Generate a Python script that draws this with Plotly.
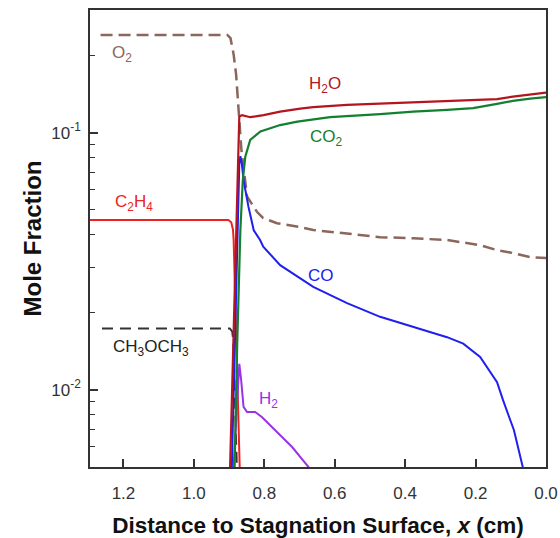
import plotly.graph_objects as go

# ---------------- data ----------------
O2_x = [1.265, 0.905, 0.896, 0.887, 0.880, 0.876, 0.873, 0.865, 0.858, 0.849, 0.821, 0.803,
        0.764, 0.746, 0.698, 0.661, 0.565, 0.471, 0.377, 0.281, 0.187, 0.139, 0.094, 0.045, 0.0]
O2_y = [0.240, 0.240, 0.233, 0.201, 0.168, 0.140, 0.117, 0.0857, 0.0716, 0.0564, 0.0492, 0.0465,
        0.0444, 0.0440, 0.0429, 0.0418, 0.0405, 0.0392, 0.0388, 0.0382, 0.0365, 0.0349, 0.0340, 0.0328, 0.0325]

CH3OCH3_x = [1.261, 0.898, 0.891, 0.888, 0.878, 0.877]
CH3OCH3_y = [0.0173, 0.0173, 0.0168, 0.0155, 0.005, 0.0045]

C2H4_x = [1.30, 0.902, 0.894, 0.889, 0.887, 0.870, 0.869]
C2H4_y = [0.0457, 0.0457, 0.0448, 0.0420, 0.0380, 0.0050, 0.0045]

H2_x = [0.889, 0.875, 0.871, 0.866, 0.859, 0.849, 0.826, 0.807, 0.769, 0.721, 0.674, 0.670]
H2_y = [0.0045, 0.0110, 0.0126, 0.0110, 0.00857, 0.00818, 0.00818, 0.00783, 0.00695, 0.00598, 0.00499, 0.0048]

CO_x = [0.893, 0.877, 0.871, 0.868, 0.864, 0.859, 0.845, 0.830, 0.812, 0.803, 0.755, 0.661,
        0.565, 0.471, 0.377, 0.281, 0.235, 0.187, 0.139, 0.122, 0.091, 0.065, 0.058]
CO_y = [0.0045, 0.040, 0.075, 0.081, 0.076, 0.0654, 0.0515, 0.0417, 0.0382, 0.036, 0.0305, 0.0251,
        0.0217, 0.0192, 0.0175, 0.0160, 0.0151, 0.0134, 0.0107, 0.0091, 0.00695, 0.00504, 0.0045]

CO2_x = [0.885, 0.877, 0.868, 0.861, 0.854, 0.840, 0.811, 0.774, 0.755, 0.706, 0.613, 0.471,
         0.377, 0.281, 0.207, 0.139, 0.094, 0.045, 0.0]
CO2_y = [0.0045, 0.015, 0.0417, 0.0654, 0.0806, 0.0937, 0.101, 0.1045, 0.107, 0.1104, 0.1148, 0.118,
         0.1207, 0.1226, 0.1245, 0.1294, 0.1329, 0.1356, 0.1374]

H2O_x = [0.898, 0.879, 0.873, 0.871, 0.863, 0.840, 0.802, 0.755, 0.698, 0.661, 0.565, 0.471,
         0.377, 0.281, 0.196, 0.139, 0.094, 0.037, 0.0]
H2O_y = [0.0045, 0.0417, 0.100, 0.1155, 0.117, 0.1148, 0.117, 0.1207, 0.124, 0.1256, 0.1283, 0.1297,
         0.131, 0.1321, 0.1333, 0.135, 0.138, 0.1415, 0.1432]

x_ticks = [1.2, 1.0, 0.8, 0.6, 0.4, 0.2, 0.0]
x_ticktext = ["1.2", "1.0", "0.8", "0.6", "0.4", "0.2", "0.0"]
y_ticks = [0.01, 0.1]
y_ticktext = ["10<sup>-2</sup>", "10<sup>-1</sup>"]
y_minor = [0.006, 0.007, 0.008, 0.009, 0.02, 0.03, 0.04, 0.05, 0.06, 0.07, 0.08, 0.09, 0.2]

# ---------------- styles ----------------
C_O2 = "#8a665c"
C_ETHER = "#333333"
C_C2H4 = "#ee2222"
C_H2 = "#9933e6"
C_CO = "#2020ee"
C_CO2 = "#138030"
C_H2O = "#b3161e"

FONT = "Liberation Sans, Arial, sans-serif"

fig = go.Figure()

def add(x, y, color, width=2, dash=None):
    fig.add_trace(go.Scatter(x=x, y=y, mode="lines",
                             line=dict(color=color, width=width, dash=dash),
                             showlegend=False, hoverinfo="skip"))

add(O2_x, O2_y, C_O2, 2.5, "12px,6px")
add(CH3OCH3_x, CH3OCH3_y, C_ETHER, 2, "11px,7px")
add(C2H4_x, C2H4_y, C_C2H4, 2)
add(H2_x, H2_y, C_H2, 2)
add(CO_x, CO_y, C_CO, 2)
add(CO2_x, CO2_y, C_CO2, 2.2)
add(H2O_x, H2O_y, C_H2O, 2.2)

labels = [
    ("O<sub>2</sub>", 1.203, -0.693, C_O2),
    ("H<sub>2</sub>O", 0.627, -0.814, C_H2O),
    ("CO<sub>2</sub>", 0.624, -1.021, C_CO2),
    ("C<sub>2</sub>H<sub>4</sub>", 1.169, -1.274, C_C2H4),
    ("CH<sub>3</sub>OCH<sub>3</sub>", 1.121, -1.838, "#222222"),
    ("CO", 0.638, -1.554, C_CO),
    ("H<sub>2</sub>", 0.789, -2.041, C_H2),
]
for text, lx, ly, col in labels:
    fig.add_annotation(x=lx, y=ly, xref="x", yref="y", text=text, showarrow=False,
                       font=dict(family=FONT, size=17, color=col))

axis_common = dict(showgrid=False, zeroline=False, showline=True, linecolor="#333333",
                   linewidth=1.6, mirror=True, ticks="inside", ticklen=8, tickwidth=1.5,
                   tickcolor="#333333", automargin=False,
                   tickfont=dict(family=FONT, size=17, color="#333333"))

fig.update_layout(
    width=560, height=538,
    margin=dict(l=90, r=14, t=10, b=71),
    paper_bgcolor="white", plot_bgcolor="white",
    xaxis=dict(range=[1.295, 0.0], tickmode="array", tickvals=x_ticks, ticktext=x_ticktext,
               ticklabelstandoff=10,
               title=dict(text="<b>Distance to Stagnation Surface, <i>x</i> (cm)</b>",
                          font=dict(family=FONT, size=22.5, color="#111111"), standoff=22),
               **axis_common),
    yaxis=dict(type="log", range=[-2.301, -0.523], tickmode="array", tickvals=y_ticks,
               ticktext=y_ticktext, ticklabelstandoff=4,
               minor=dict(tickmode="array", tickvals=y_minor, ticks="inside", ticklen=5,
                          tickwidth=1.2, tickcolor="#333333"),
               title=dict(text="<b>Mole Fraction</b>",
                          font=dict(family=FONT, size=24, color="#111111"), standoff=3),
               **axis_common),
)

fig.write_html("out.html")
